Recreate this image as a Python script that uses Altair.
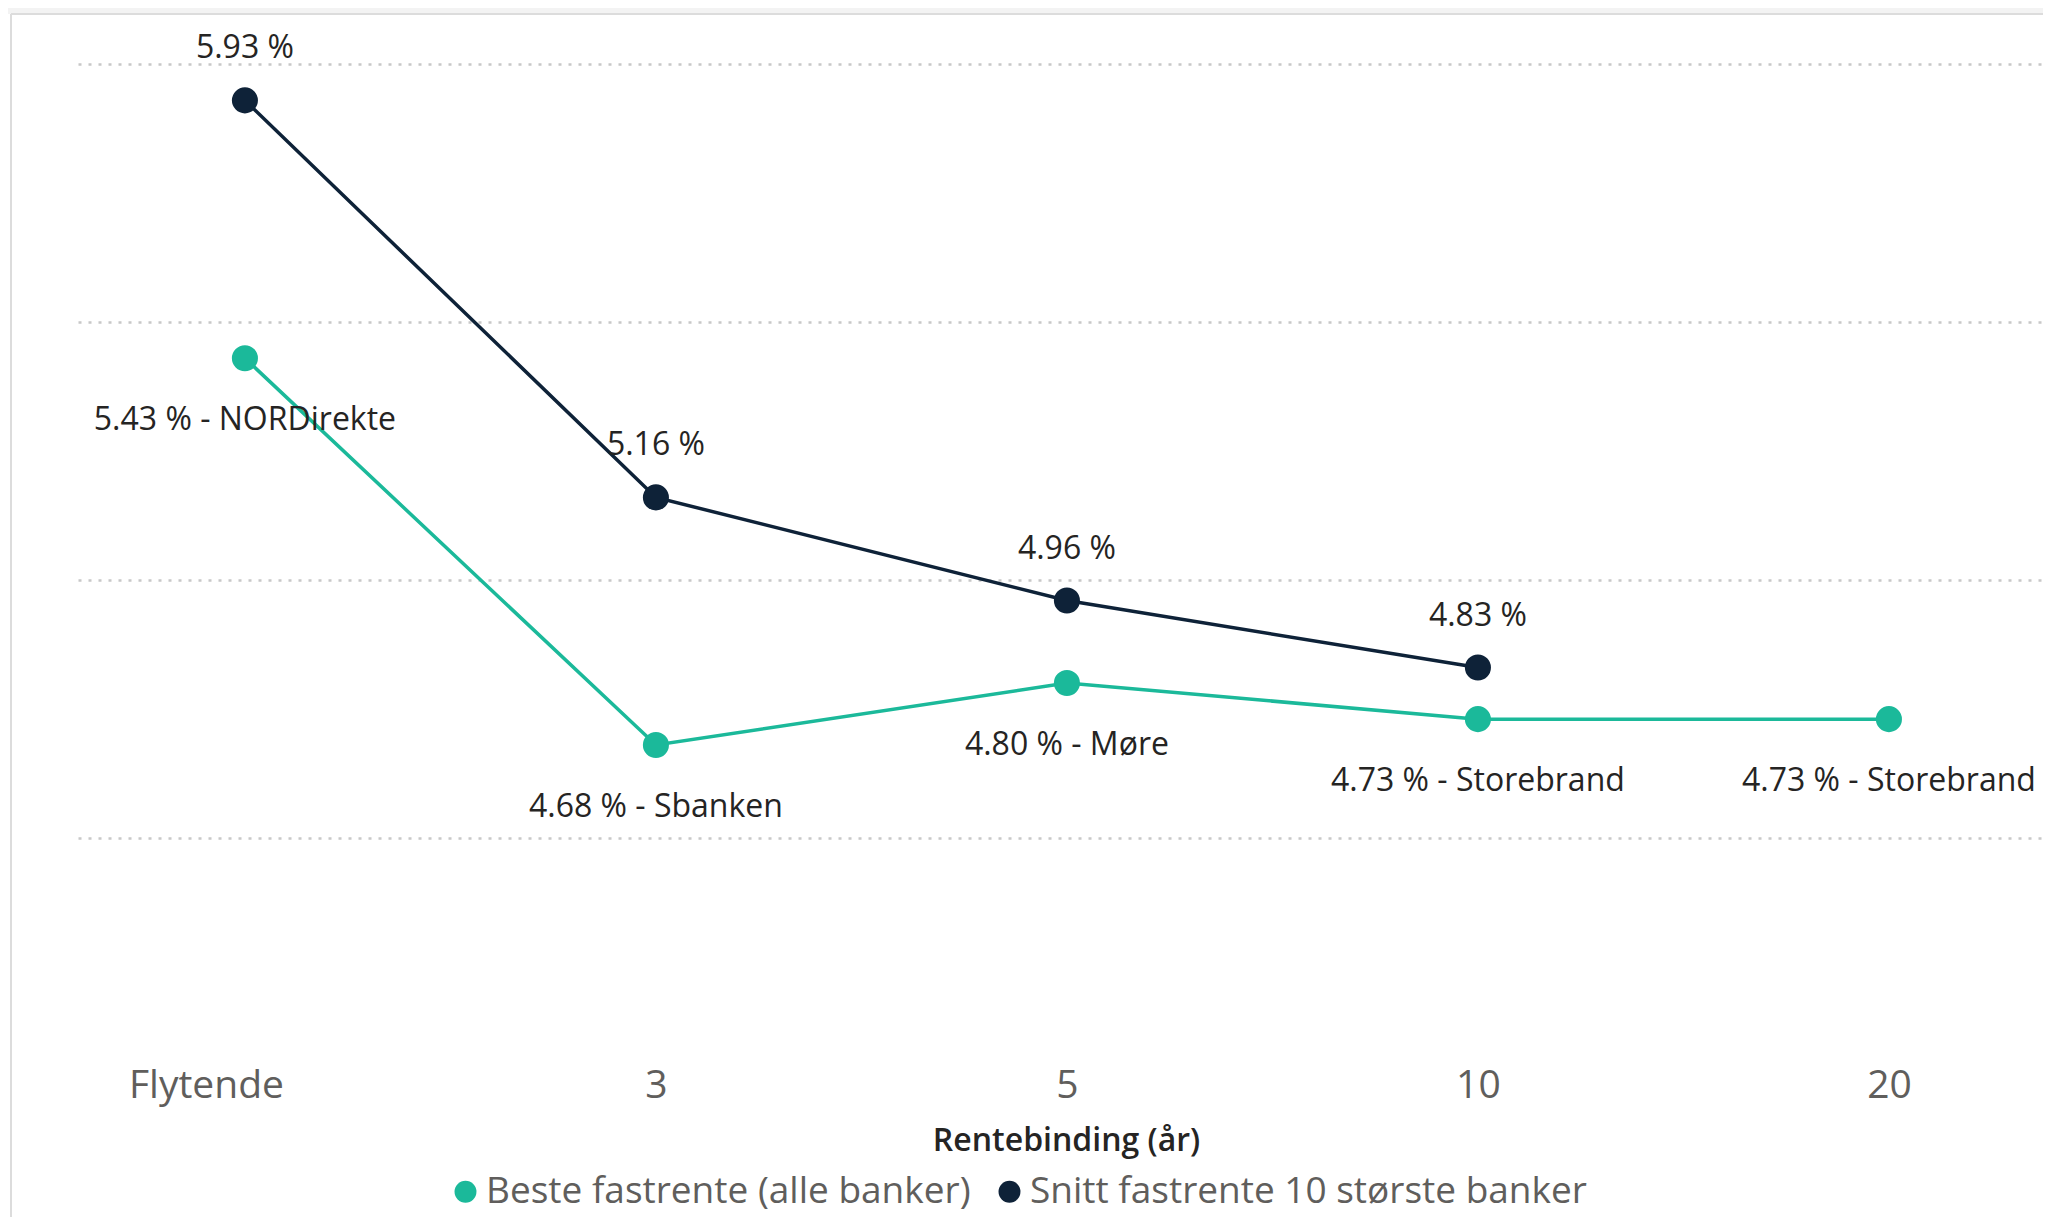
import altair as alt
import pandas as pd

# ---- data ----
categories = ["Flytende", "3", "5", "10", "20"]
series_names = ["Beste fastrente (alle banker)", "Snitt fastrente 10 største banker"]
best_rate = [5.43, 4.68, 4.80, 4.73, 4.73]
best_bank = ["NORDirekte", "Sbanken", "Møre", "Storebrand", "Storebrand"]
avg_rate = [5.93, 5.16, 4.96, 4.83, None]
grid_values = [4.5, 5.0, 5.5, 6.0]

GREEN = "#1BB99A"
NAVY = "#0E2238"
FONT = "Open Sans"

rows = []
for c, v, b in zip(categories, best_rate, best_bank):
    rows.append({"cat": c, "series": series_names[0], "value": v,
                 "label": f"{v:.2f} % - {b}"})
for c, v in zip(categories, avg_rate):
    if v is not None:
        rows.append({"cat": c, "series": series_names[1], "value": v,
                     "label": f"{v:.2f} %"})
df = pd.DataFrame(rows)

x_enc = alt.X(
    "cat:N",
    sort=categories,
    scale=alt.Scale(type="point", padding=0.3905, align=0.52),
    title="Rentebinding (år)",
    axis=alt.Axis(
        labelAngle=0, labelFontSize=39, labelColor="#605E5C", labelFont=FONT,
        labelPadding=53, labelBaseline="alphabetic", labelFlush=False,
        labelOverlap=False,
        labelOffset={"condition": {"test": "datum.value === 'Flytende'", "value": -39}, "value": 0},
        ticks=False, tickSize=0, domain=False, grid=False,
        titleFontSize=32, titleFontWeight=600, titleColor="#252423", titleFont=FONT,
        titleBaseline="alphabetic", titleY=106, titleX=988,
    ),
)
y_enc = alt.Y(
    "value:Q",
    scale=alt.Scale(domain=[4.1, 6.08], zero=False, nice=False),
    axis=alt.Axis(values=grid_values, labels=False, ticks=False, domain=False,
                  title=None, grid=True, gridColor="#c8c8c8", gridDash=[3, 7],
                  gridWidth=2.5),
)
color_scale = alt.Scale(domain=series_names, range=[GREEN, NAVY])
legend = alt.Legend(
    orient="none", legendX=369, legendY=1150, direction="horizontal",
    title=None, symbolType="circle", symbolSize=480, symbolStrokeWidth=0,
    symbolOpacity=1,
    labelFontSize=37, labelColor="#605E5C", labelFont=FONT,
    columnPadding=20, labelOffset=2, padding=0, labelLimit=0,
)

base = alt.Chart(df)

lines = base.mark_line(strokeWidth=3.5).encode(
    x=x_enc, y=y_enc,
    color=alt.Color("series:N", scale=color_scale, legend=legend),
    detail="series:N",
)

points = base.mark_circle(size=680, opacity=1).encode(
    x=x_enc, y=y_enc,
    color=alt.Color("series:N", scale=color_scale, legend=legend),
)

labels_best = base.transform_filter(
    alt.datum.series == series_names[0]
).mark_text(
    dy=72, baseline="alphabetic", fontSize=32, font=FONT, color="#252423"
).encode(x=x_enc, y=y_enc, text="label:N")

labels_avg = base.transform_filter(
    alt.datum.series == series_names[1]
).mark_text(
    dy=-42, baseline="alphabetic", fontSize=32, font=FONT, color="#252423"
).encode(x=x_enc, y=y_enc, text="label:N")

deco = alt.Chart(pd.DataFrame({"d": [0]}))
top_strip = deco.mark_rect(color="#f3f3f3").encode(
    x=alt.value(-70), x2=alt.value(1965), y=alt.value(-16), y2=alt.value(-9)
)
top_line = deco.mark_rule(color="#dcdcdc", strokeWidth=2).encode(
    x=alt.value(-67), x2=alt.value(1965), y=alt.value(-9)
)
left_line = deco.mark_rule(color="#dcdcdc", strokeWidth=2).encode(
    x=alt.value(-67), y=alt.value(-9), y2=alt.value(1200)
)

chart = alt.layer(
    top_strip, top_line, left_line, lines, points, labels_best, labels_avg
).properties(
    width=1965, height=1021,
    autosize=alt.AutoSizeParams(type="none"),
    padding={"left": 70, "top": 15, "right": 0, "bottom": 173},
    background="white",
).configure_view(stroke=None)

chart.save("out.html", embed_options={"renderer": "svg", "actions": False})
